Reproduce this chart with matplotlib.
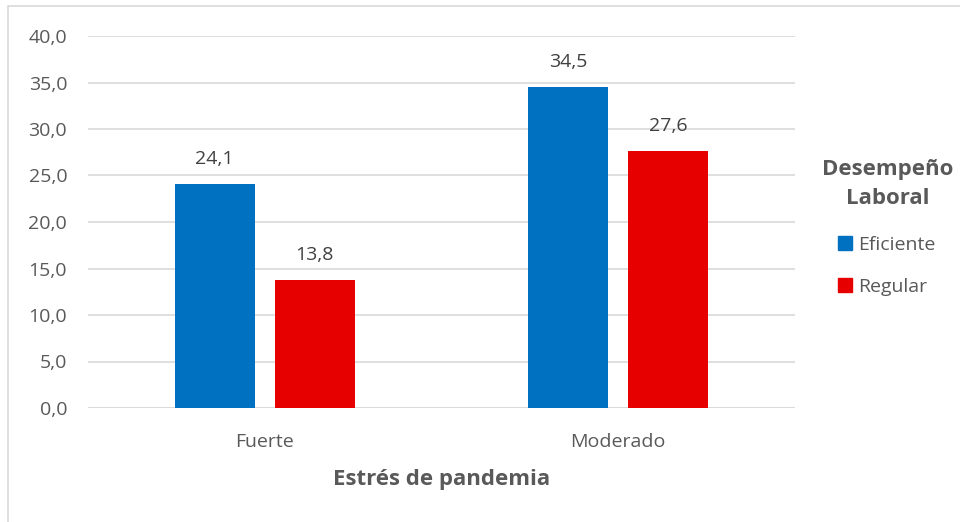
import numpy as np
import matplotlib.pyplot as plt
from matplotlib.patches import Rectangle, Patch

# -----------------------------
# Data
# -----------------------------
categories = ["Fuerte", "Moderado"]
eficiente = [24.1, 34.5]
regular = [13.8, 27.6]
series_names = ["Eficiente", "Regular"]
yticks = [0, 5, 10, 15, 20, 25, 30, 35, 40]

blue = "#0070C0"
red = "#E60000"
text_col = "#595959"

plt.rcParams["font.family"] = ["Open Sans", "DejaVu Sans"]

fig = plt.figure(figsize=(9.6, 5.22), dpi=100)
W, H = 960, 522
ax = fig.add_axes([88 / W, 1 - 408 / H, (795 - 88) / W, (408 - 36) / H])

# outer chart border
fig.patches.append(Rectangle((8 / W, -0.1), 1.2, 1 - 6 / H + 0.1,
                             transform=fig.transFigure, fill=False,
                             edgecolor="#D9D9D9", linewidth=1.2))

x = np.arange(len(categories))
offset = 0.1415
width = 0.226

b1 = ax.bar(x - offset, eficiente, width, color=blue, zorder=3)
b2 = ax.bar(x + offset, regular, width, color=red, zorder=3)

for bars, vals in [(b1, eficiente), (b2, regular)]:
    for rect, v in zip(bars, vals):
        ax.annotate(f"{v:.1f}".replace(".", ","),
                    (rect.get_x() + rect.get_width() / 2, v),
                    xytext=(0, 18), textcoords="offset points",
                    ha="center", va="center", fontsize=14, color="#404040")

ax.set_xlim(-0.5, 1.5)
ax.set_ylim(0, 40)
ax.set_yticks(yticks)
ax.set_yticklabels([f"{t:.1f}".replace(".", ",") for t in yticks])
ax.set_xticks(x)
ax.set_xticklabels(categories)
ax.tick_params(axis="both", length=0, labelsize=14, colors=text_col)
ax.tick_params(axis="y", pad=15)
ax.tick_params(axis="x", pad=18)
ax.yaxis.grid(True, color="#D9D9D9", linewidth=1.2, zorder=0)
for s in ax.spines.values():
    s.set_visible(False)
ax.axhline(0, color="#D9D9D9", linewidth=1.2, zorder=2)

ax.set_xlabel("Estrés de pandemia", fontsize=16, fontweight="bold",
              color=text_col, labelpad=13)

# legend at right
fig.text(888 / W, 1 - 184 / H, "Desempeño\nLaboral", ha="center", va="center",
         fontsize=16, fontweight="bold", color=text_col, linespacing=1.5)
handles = [Patch(color=blue), Patch(color=red)]
leg = fig.legend(handles, series_names, loc="center left",
                 bbox_to_anchor=(820 / W, 1 - 266 / H), frameon=False,
                 fontsize=14, handlelength=0.75, handleheight=0.75,
                 handletextpad=0.3, labelspacing=1.25)
for t in leg.get_texts():
    t.set_color(text_col)

fig.savefig("out.png", dpi=100)
